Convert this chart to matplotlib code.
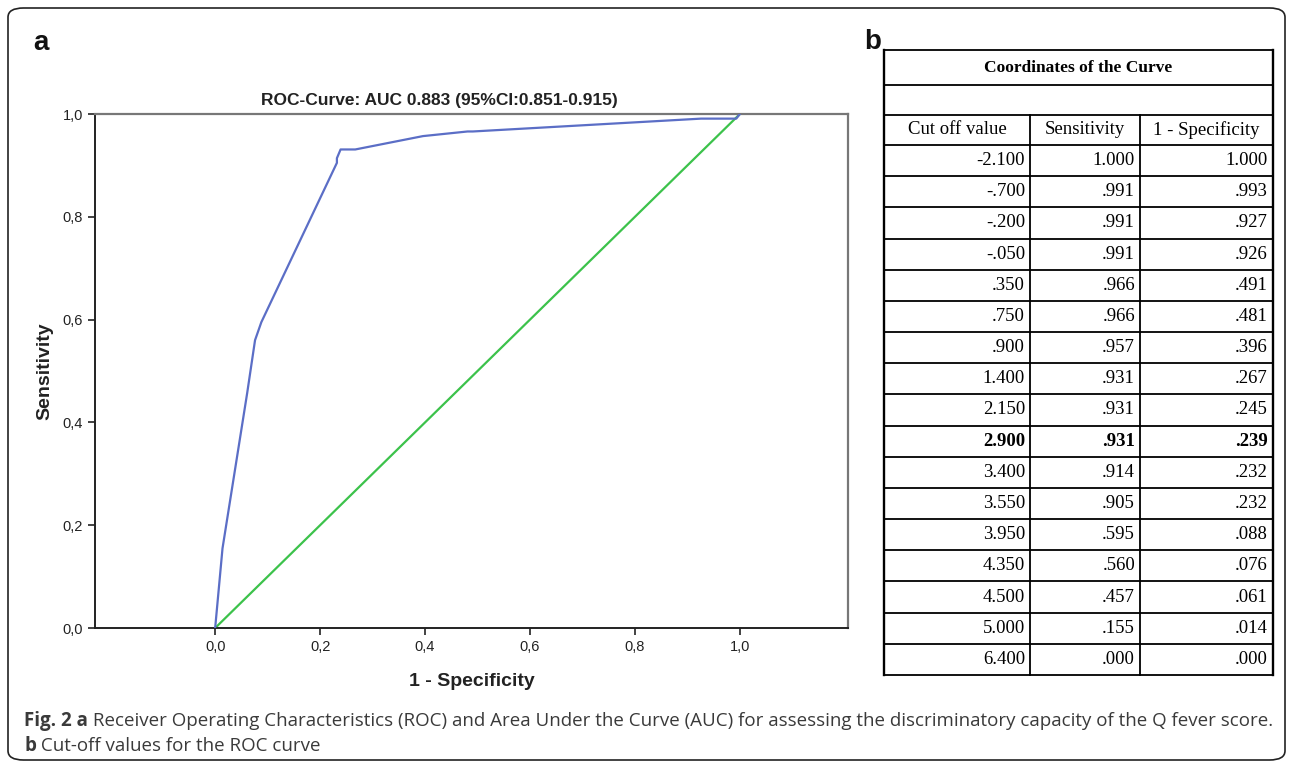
import numpy as np
import matplotlib
matplotlib.use("Agg")
import matplotlib.pyplot as plt
from matplotlib.patches import FancyBboxPatch

# ROC table (cut-off, sensitivity, 1 - specificity)
cutoffs = ["-2.100", "-.700", "-.200", "-.050", ".350", ".750", ".900", "1.400", "2.150",
           "2.900", "3.400", "3.550", "3.950", "4.350", "4.500", "5.000", "6.400"]
sensitivity = [1.000, .991, .991, .991, .966, .966, .957, .931, .931,
               .931, .914, .905, .595, .560, .457, .155, .000]
one_minus_spec = [1.000, .993, .927, .926, .491, .481, .396, .267, .245,
                  .239, .232, .232, .088, .076, .061, .014, .000]
best_row = 9  # bold row (2.900)

col_headers = ["Cut off value", "Sensitivity", "1 - Specificity"]
tick_vals = [0.0, 0.2, 0.4, 0.6, 0.8, 1.0]
tick_labels = ["0,0", "0,2", "0,4", "0,6", "0,8", "1,0"]

narrow = ["Liberation Sans Narrow", "Liberation Sans", "DejaVu Sans"]
serif = ["Liberation Serif", "DejaVu Serif"]
capfont = ["Open Sans", "DejaVu Sans"]

W, H = 1292, 768
fig = plt.figure(figsize=(W / 100, H / 100), dpi=100)

# outer rounded frame
frame = FancyBboxPatch((8 / W, 8 / H), 1277 / W, 752 / H, transform=fig.transFigure,
                       boxstyle="round,pad=0,rounding_size=0.012", fc="none",
                       ec="#222222", lw=1.2)
fig.patches.append(frame)

# ---- panel a: ROC curve ----
ax = fig.add_axes([95 / W, 1 - 628 / H, (848 - 95) / W, (628 - 114) / H])
ax.plot(one_minus_spec, sensitivity, color="#5b6ec6", lw=1.6, zorder=3)
ax.plot([0, 1], [0, 1], color="#3cc24b", lw=1.6, zorder=2)
ax.set_xlim(-0.229, 1.206)
ax.set_ylim(0, 1)
ax.set_xticks(tick_vals)
ax.set_xticklabels(tick_labels)
ax.set_yticks(tick_vals)
ax.set_yticklabels(tick_labels)
ax.tick_params(direction="out", length=5, width=1.2, labelsize=10.5, colors="#222222")
for lbl in ax.get_xticklabels() + ax.get_yticklabels():
    lbl.set_family(narrow)
for s in ["left", "bottom"]:
    ax.spines[s].set_color("#222222")
    ax.spines[s].set_linewidth(1.4)
for s in ["top", "right"]:
    ax.spines[s].set_color("#777777")
    ax.spines[s].set_linewidth(1.6)
ax.text(0.458, 1.012, "ROC-Curve: AUC 0.883 (95%CI:0.851-0.915)", transform=ax.transAxes,
        family=narrow, fontweight="bold", fontsize=12.5, ha="center", va="bottom",
        color="#222222")
ax.set_xlabel("1 - Specificity", family=narrow, fontweight="bold", fontsize=14,
              labelpad=14, color="#222222")
ax.set_ylabel("Sensitivity", family=narrow, fontweight="bold", fontsize=14,
              labelpad=7, color="#222222")

fig.text(33 / W, 1 - 50 / H, "a", family=["Liberation Sans", "DejaVu Sans"],
         fontweight="bold", fontsize=20, color="#111111")
fig.text(864 / W, 1 - 49 / H, "b", family=["Liberation Sans", "DejaVu Sans"],
         fontweight="bold", fontsize=20, color="#111111")

# ---- panel b: coordinates table ----
tx0, tx1, ty0, ty1 = 884, 1273, 50, 675
tax = fig.add_axes([tx0 / W, 1 - ty1 / H, (tx1 - tx0) / W, (ty1 - ty0) / H])
col_edges = [0, 146, 256, 389]
n_data = len(cutoffs)
row_edges = [0, 35, 65, 95] + [95 + (ty1 - ty0 - 95) * (k + 1) / n_data for k in range(n_data)]
tax.set_xlim(0, col_edges[-1])
tax.set_ylim(ty1 - ty0, 0)
tax.axis("off")
lw = 1.3
for r in row_edges:
    tax.plot([0, col_edges[-1]], [r, r], color="black", lw=lw, clip_on=False)
for x in [0, col_edges[-1]]:
    tax.plot([x, x], [0, row_edges[-1]], color="black", lw=lw + 0.4, clip_on=False)
for x in col_edges[1:-1]:
    tax.plot([x, x], [row_edges[2], row_edges[-1]], color="black", lw=lw, clip_on=False)

tax.text(col_edges[-1] / 2, (row_edges[0] + row_edges[1]) / 2, "Coordinates of the Curve",
         family=serif, fontweight="bold", fontsize=12.5, ha="center", va="center")
for j, h in enumerate(col_headers):
    tax.text((col_edges[j] + col_edges[j + 1]) / 2, (row_edges[2] + row_edges[3]) / 2, h,
             family=serif, fontsize=13.5, ha="center", va="center")


def fmt(v):
    s = "%.3f" % v
    return s[1:] if s.startswith("0") else s


for i in range(n_data):
    row = [cutoffs[i], fmt(sensitivity[i]), fmt(one_minus_spec[i])]
    wt = "bold" if i == best_row else "normal"
    yc = (row_edges[i + 3] + row_edges[i + 4]) / 2
    for j, val in enumerate(row):
        tax.text(col_edges[j + 1] - 5, yc, val, family=serif, fontsize=13.5,
                 fontweight=wt, ha="right", va="center")

# ---- caption ----
cap_color = "#3a3a3a"
fig.canvas.draw()
renderer = fig.canvas.get_renderer()


def rich_line(x, y, parts):
    for txt, wt in parts:
        t = fig.text(x / W, 1 - y / H, txt, family=capfont, fontweight=wt,
                     fontsize=13.5, color=cap_color, va="center")
        bb = t.get_window_extent(renderer)
        x += bb.width


rich_line(24, 721, [("Fig. 2 a", "bold"),
                    (" Receiver Operating Characteristics (ROC) and Area Under the Curve (AUC) "
                     "for assessing the discriminatory capacity of the Q fever score.", "normal")])
rich_line(24, 746, [("b", "bold"), (" Cut-off values for the ROC curve", "normal")])

fig.savefig("out.png", dpi=100)
